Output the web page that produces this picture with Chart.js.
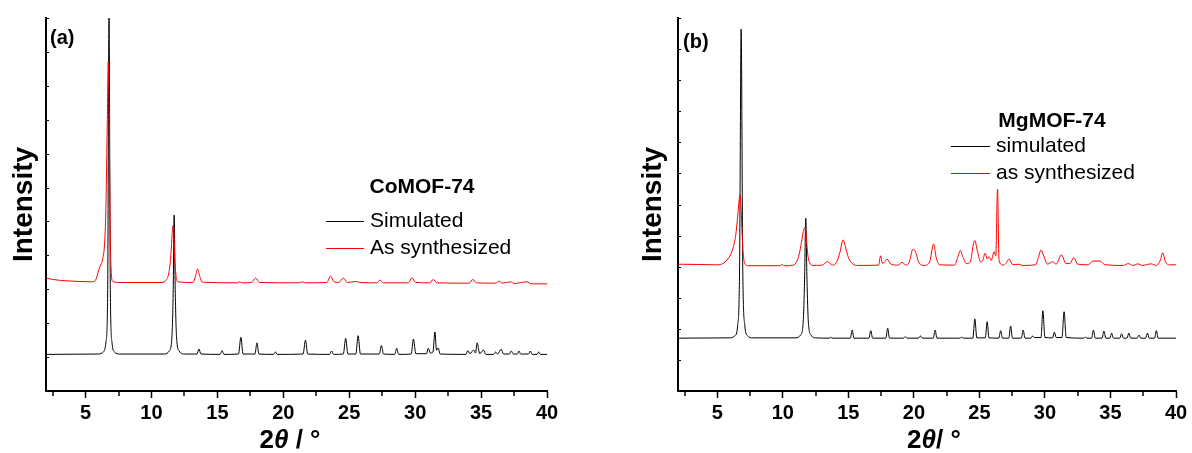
<!DOCTYPE html>
<html><head><meta charset="utf-8">
<script src="https://cdn.jsdelivr.net/npm/chart.js@4.4.1/dist/chart.umd.min.js"></script>
<style>
body{margin:0;background:#fff;width:1192px;height:453px;overflow:hidden;position:relative}
canvas{position:absolute;top:0}
#ca{left:0}#cb{left:596px}
</style></head>
<body>
<canvas id="ca" width="596" height="453"></canvas>
<canvas id="cb" width="596" height="453"></canvas>
<script>
// ---------- tick values ----------
const xTickValues = [2.5,5,7.5,10,12.5,15,17.5,20,22.5,25,27.5,30,32.5,35,37.5,40];
const xTickLabelled = [5,10,15,20,25,30,35,40];

// ---------- panel (a) CoMOF-74 ----------
const aSimX = [2.0,6.0,6.35,6.55,6.68,6.78,6.88,7.0,7.2,7.6,11.0,11.35,11.55,11.65,11.72,11.8,11.9,12.1,12.5,
 13.45,13.6,13.75,15.2,15.35,15.5,16.6,16.78,16.95,17.85,18.0,18.15,19.25,19.4,19.55,21.5,21.68,21.85,
 23.5,23.66,23.82,24.55,24.73,24.9,25.5,25.67,25.85,27.28,27.44,27.6,28.45,28.6,28.75,29.7,29.87,30.05,
 30.85,31.0,31.15,31.35,31.5,31.62,31.74,31.9,33.85,33.99,34.15,34.44,34.58,34.7,34.9,35.18,35.35,
 35.95,36.1,36.25,36.53,36.7,37.15,37.29,37.45,37.75,37.87,38.0,38.6,38.73,38.88,39.25,39.37,39.5,40.0];
const aSimY = [1.08,1.09,1.15,1.45,3.0,11.0,3.0,1.45,1.15,1.09,1.09,1.18,1.6,3.0,5.19,3.0,1.6,1.18,1.09,
 1.09,1.24,1.09,1.08,1.19,1.08,1.09,1.58,1.09,1.09,1.42,1.09,1.08,1.15,1.08,1.09,1.50,1.09,
 1.08,1.18,1.08,1.09,1.55,1.09,1.09,1.63,1.09,1.09,1.34,1.09,1.08,1.26,1.08,1.09,1.53,1.10,
 1.10,1.26,1.12,1.15,1.74,1.20,1.27,1.09,1.08,1.19,1.10,1.21,1.12,1.42,1.10,1.21,1.08,
 1.08,1.15,1.09,1.23,1.09,1.09,1.18,1.09,1.09,1.18,1.09,1.09,1.18,1.08,1.08,1.15,1.08,1.08];

const aSynX = [2.0,2.5,3.5,4.5,5.5,5.8,6.0,6.15,6.3,6.45,6.55,6.65,6.72,6.8,6.88,6.95,7.05,7.5,10.8,11.1,11.3,
 11.45,11.55,11.62,11.7,11.78,11.88,12.0,13.15,13.35,13.5,13.65,13.85,16.5,16.7,16.85,17.6,17.9,18.2,
 21.2,21.45,21.7,23.3,23.58,23.85,24.2,24.55,24.85,25.56,25.8,27.1,27.34,27.6,29.5,29.75,30.05,
 31.1,31.37,31.65,34.1,34.37,34.65,36.1,36.38,36.6,37.26,37.5,38.48,38.8,40.0];
const aSynY = [3.33,3.29,3.25,3.23,3.22,3.30,3.57,3.72,3.89,4.4,5.5,8.0,9.7,7.5,4.5,3.5,3.24,3.20,3.20,3.27,3.45,
 3.9,4.5,4.87,4.6,3.8,3.35,3.22,3.20,3.40,3.60,3.40,3.21,3.19,3.22,3.19,3.20,3.33,3.20,
 3.19,3.22,3.19,3.20,3.39,3.22,3.20,3.33,3.20,3.23,3.20,3.19,3.27,3.19,3.19,3.34,3.20,
 3.19,3.29,3.19,3.18,3.29,3.19,3.18,3.24,3.18,3.22,3.17,3.22,3.16,3.16];

// ---------- panel (b) MgMOF-74 ----------
const bSimX = [2.0,6.0,6.35,6.55,6.7,6.82,6.94,7.1,7.3,7.7,11.0,11.35,11.55,11.66,11.75,11.84,11.95,12.15,12.5,
 13.55,13.65,13.75,15.15,15.29,15.43,16.57,16.71,16.85,17.86,18.0,18.14,19.2,19.34,19.48,20.36,20.5,20.64,
 21.48,21.62,21.76,23.5,23.64,23.78,24.5,24.65,24.8,25.45,25.59,25.73,26.48,26.62,26.76,27.24,27.38,27.52,
 28.2,28.34,28.48,28.93,29.07,29.2,29.7,29.84,30.0,30.58,30.72,30.86,31.3,31.46,31.62,32.96,33.1,33.2,
 33.56,33.7,33.84,34.36,34.5,34.64,34.95,35.09,35.23,35.71,35.85,35.99,36.26,36.4,36.54,37.03,37.17,37.31,
 37.68,37.82,37.96,38.36,38.5,38.64,40.0];
const bSimY = [1.70,1.71,1.78,2.1,4.0,11.64,4.0,2.1,1.78,1.71,1.71,1.80,2.2,3.6,5.56,3.6,2.2,1.80,1.71,
 1.70,1.73,1.70,1.70,1.96,1.70,1.70,1.94,1.70,1.70,2.02,1.70,1.70,1.75,1.70,1.70,1.77,1.70,
 1.70,1.96,1.70,1.70,1.73,1.70,1.70,2.32,1.71,1.71,2.23,1.71,1.70,1.94,1.70,1.70,2.09,1.70,
 1.70,1.96,1.70,1.70,1.77,1.72,1.72,2.58,1.72,1.71,1.89,1.72,1.72,2.55,1.72,1.70,1.73,1.70,
 1.70,1.96,1.70,1.70,1.93,1.70,1.70,1.86,1.70,1.70,1.84,1.70,1.70,1.86,1.70,1.70,1.80,1.70,
 1.70,1.86,1.70,1.70,1.94,1.70,1.70];

const bSynX = [2.0,3.5,5.0,5.5,5.8,6.0,6.2,6.4,6.55,6.68,6.74,6.8,6.9,6.98,7.1,7.3,9.8,9.95,10.1,10.8,11.1,11.3,
 11.45,11.6,11.7,11.8,11.9,12.05,12.3,13.0,13.4,13.8,14.1,14.35,14.6,14.8,15.0,15.3,15.7,17.3,17.46,17.6,
 17.75,17.95,18.25,18.8,19.1,19.4,19.65,19.92,20.1,20.4,20.8,21.2,21.5,21.7,21.95,23.1,23.35,23.54,23.75,
 24.0,24.3,24.55,24.65,24.85,25.1,25.25,25.43,25.6,25.74,25.9,26.12,26.25,26.38,26.5,26.8,27.0,27.27,
 27.55,28.0,28.3,29.3,29.5,29.7,29.9,30.2,30.6,30.85,31.26,31.6,31.9,32.2,32.5,33.3,33.66,34.2,34.6,
 36.0,36.36,36.7,37.1,37.4,38.1,38.5,38.8,38.98,39.2,39.5,40.0];
const bSynY = [4.08,4.07,4.06,4.12,4.25,4.38,4.6,5.0,5.6,6.2,6.31,6.0,5.0,4.4,4.1,4.03,4.03,4.08,4.03,4.05,4.2,4.5,
 4.86,5.2,5.27,4.9,4.4,4.12,4.04,4.05,4.16,4.05,4.15,4.45,4.86,4.6,4.3,4.1,4.04,4.05,4.35,4.1,
 4.15,4.24,4.08,4.05,4.14,4.05,4.15,4.56,4.5,4.12,4.04,4.15,4.73,4.3,4.06,4.05,4.3,4.52,4.3,
 4.1,4.15,4.75,4.84,4.5,4.15,4.2,4.43,4.25,4.32,4.2,4.48,4.35,6.49,4.2,4.05,4.1,4.24,
 4.06,4.08,4.04,4.06,4.3,4.54,4.35,4.08,4.16,4.08,4.38,4.1,4.1,4.29,4.08,4.06,4.18,4.18,4.06,
 4.04,4.1,4.04,4.09,4.04,4.09,4.04,4.2,4.45,4.15,4.06,4.06];

const FONT = '"Liberation Sans", Arial, sans-serif';
const pts = (xs, ys) => xs.map((x, i) => ({x: x, y: ys[i]}));

function overlayPlugin(o) {
  return {
    id: 'overlay',
    afterDraw(chart) {
      const ctx = chart.ctx, area = chart.chartArea, ys = chart.scales.y, xs = chart.scales.x;
      ctx.save();
      // inward y ticks
      ctx.strokeStyle = '#000'; ctx.lineWidth = 1;
      for (let v = 1; v <= o.ymax; v++) {
        const py = Math.round(ys.getPixelForValue(v)) + 0.5;
        ctx.beginPath(); ctx.moveTo(area.left, py); ctx.lineTo(area.left + 3, py); ctx.stroke();
      }
      // minor (unlabelled) x ticks, shorter
      ctx.lineWidth = 1.5;
      xTickValues.filter(v => !xTickLabelled.includes(v)).forEach(v => {
        const px = Math.round(xs.getPixelForValue(v));
        ctx.beginPath(); ctx.moveTo(px, area.bottom); ctx.lineTo(px, area.bottom + 5); ctx.stroke();
      });
      ctx.fillStyle = '#000';
      ctx.textBaseline = 'middle';
      // panel label
      ctx.font = 'bold 20px ' + FONT; ctx.textAlign = 'left';
      ctx.fillText(o.panel, o.panelX, o.panelY);
      // legend title
      ctx.font = 'bold 21px ' + FONT; ctx.textAlign = 'center';
      ctx.fillText(o.legTitle, o.legTitleX, o.legTitleY);
      // legend entries
      ctx.font = '21px ' + FONT; ctx.textAlign = 'left';
      o.entries.forEach(e => {
        const ds = chart.data.datasets[e.ds];
        ctx.strokeStyle = ds.borderColor; ctx.lineWidth = 1;
        ctx.beginPath(); ctx.moveTo(o.lineX0, e.y + 0.5); ctx.lineTo(o.lineX1, e.y + 0.5); ctx.stroke();
        ctx.fillText(ds.label, o.textX, e.y);
      });
      // x title: 2θ / °
      const parts = [['2', 'bold 26px ' + FONT], ['θ', 'italic bold 26px ' + FONT], [o.xSep, 'bold 26px ' + FONT]];
      let w = 0;
      parts.forEach(p => { ctx.font = p[1]; w += ctx.measureText(p[0]).width; });
      let x = o.xTitleX - w / 2;
      ctx.textAlign = 'left';
      parts.forEach(p => { ctx.font = p[1]; ctx.fillText(p[0], x, o.xTitleY); x += ctx.measureText(p[0]).width; });
      ctx.restore();
    }
  };
}

function makeChart(id, sim, syn, simLabel, synLabel, ymax, yWidth, rightPad, titlePad, ov) {
  return new Chart(document.getElementById(id), {
    type: 'line',
    data: {
      datasets: [
        {label: simLabel, data: sim, borderColor: '#000000', borderWidth: 1, pointRadius: 0,
         cubicInterpolationMode: 'monotone', order: 1},
        {label: synLabel, data: syn, borderColor: '#ff0000', borderWidth: 1, pointRadius: 0,
         cubicInterpolationMode: 'monotone', order: 0}
      ]
    },
    options: {
      responsive: false, animation: false, devicePixelRatio: 1,
      layout: {padding: {left: 0, top: 18, right: rightPad, bottom: 0}},
      plugins: {legend: {display: false}, tooltip: {enabled: false}},
      scales: {
        x: {
          type: 'linear', min: 2, max: 40,
          afterBuildTicks: s => { s.ticks = xTickValues.map(v => ({value: v})); },
          afterFit: s => { s.height = 62; },
          ticks: {
            autoSkip: false, maxRotation: 0, padding: 3, color: '#000',
            font: {family: FONT, size: 20, weight: 'bold'},
            callback: v => xTickLabelled.includes(v) ? String(v) : ''
          },
          grid: {display: true, drawOnChartArea: false, drawTicks: true, tickLength: 7,
                 tickColor: c => (c.tick && xTickLabelled.includes(c.tick.value)) ? '#000' : 'rgba(0,0,0,0)',
                 tickWidth: 1.5},
          border: {display: true, color: '#000', width: 2}
        },
        y: {
          min: 0, max: ymax,
          afterFit: s => { s.width = yWidth; },
          ticks: {display: false, stepSize: 1},
          grid: {display: false},
          border: {display: true, color: '#000', width: 2},
          title: {display: true, text: 'Intensity', color: '#000',
                  font: {family: FONT, size: 28, weight: 'bold'}, padding: {top: titlePad, bottom: 0}}
        }
      }
    },
    plugins: [overlayPlugin(ov)]
  });
}

makeChart('ca', pts(aSimX, aSimY), pts(aSynX, aSynY), 'Simulated', 'As synthesized', 11, 46, 49, 7, {
  ymax: 11, panel: '(a)', panelX: 50, panelY: 38,
  legTitle: 'CoMOF-74', legTitleX: 422, legTitleY: 187,
  lineX0: 326, lineX1: 364, textX: 370,
  entries: [{ds: 0, y: 221}, {ds: 1, y: 248}],
  xSep: ' / °', xTitleX: 290, xTitleY: 441
});

makeChart('cb', pts(bSimX, bSimY), pts(bSynX, bSynY), 'simulated', 'as synthesized', 12, 82, 16, 40, {
  ymax: 12, panel: '(b)', panelX: 87, panelY: 42,
  legTitle: 'MgMOF-74', legTitleX: 456, legTitleY: 121,
  lineX0: 355, lineX1: 394, textX: 400,
  entries: [{ds: 0, y: 146}, {ds: 1, y: 173}],
  xSep: '/ °', xTitleX: 338, xTitleY: 441
});
</script>
</body></html>
